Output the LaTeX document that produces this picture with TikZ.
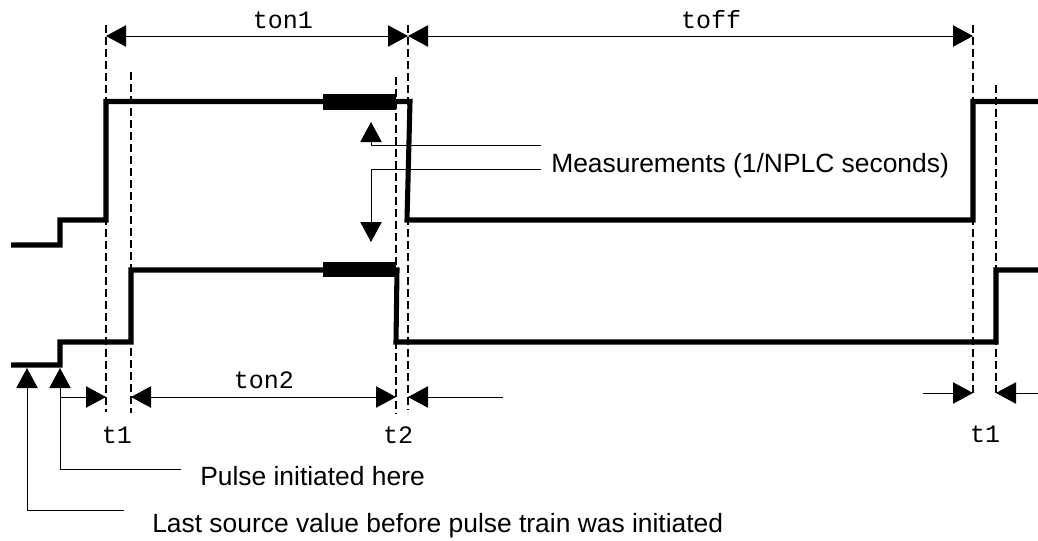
\documentclass[tikz,border=0pt]{standalone}
\usepackage{fontspec}
\setmainfont{Liberation Sans}
\newfontfamily\monofont{Liberation Mono}
\usetikzlibrary{arrows.meta}
\tikzset{
  wave/.style={line width=3.8pt},
  block/.style={line width=11.5pt},
  guide/.style={line width=1.1pt, dash pattern=on 6pt off 3pt},
  dim/.style={line width=0.75pt},
  tip/.style={-{Triangle[length=15pt,width=16pt]}},
  tips/.style={{Triangle[length=15pt,width=16pt]}-{Triangle[length=15pt,width=16pt]}},
  lbl/.style={inner sep=0pt, anchor=base west, font=\fontsize{19.8pt}{22pt}\selectfont},
  mlbl/.style={inner sep=0pt, anchor=base, font=\monofont\fontsize{18.75pt}{21pt}\selectfont},
}
\begin{document}
\begin{tikzpicture}[x=0.75pt,y=-0.75pt]
\useasboundingbox (0,0) rectangle (1038,540);

% guide coordinates
\coordinate (ga1) at (106,25);   \coordinate (ga2) at (106,412);
\coordinate (gb1) at (131,72);   \coordinate (gb2) at (131,413);
\coordinate (gc1) at (396,77);   \coordinate (gc2) at (396,414);
\coordinate (gd1) at (408,25);   \coordinate (gd2) at (408,410);
\coordinate (ge1) at (973,25);   \coordinate (ge2) at (973,397);
\coordinate (gf1) at (996,85);   \coordinate (gf2) at (996,397);

\draw[guide] (ga1) -- (ga2);
\draw[guide] (gb1) -- (gb2);
\draw[guide] (gc1) -- (gc2);
\draw[guide] (gd1) -- (gd2);
\draw[guide] (ge1) -- (ge2);
\draw[guide] (gf1) -- (gf2);

% waveforms
\draw[wave] (11,245) -- (60,245) -- (60,220) -- (106,220) -- (106,101.5)
  -- (410,101.5) -- (407,220) -- (973,220) -- (973,101.5) -- (1038,101.5);
\draw[block] (323,102) -- (396,102);
\draw[wave] (11,365) -- (60,365) -- (60,342) -- (131,342) -- (131,270)
  -- (397,270) -- (396,342) -- (996,342) -- (996,270) -- (1038,270);
\draw[block] (323,269.5) -- (396,269.5);

% dimension arrows
\coordinate (a1) at (106,36); \coordinate (a2) at (408,36); \coordinate (a3) at (973,36);
\draw[dim,tips] (a1) -- (a2);
\draw[dim,tips] (a2) -- (a3);
\node[mlbl] (ton1) at (283,28) {ton1};
\node[mlbl] (toff) at (711,28) {toff};

\coordinate (b0) at (60,397); \coordinate (b1) at (106,397);
\coordinate (b2) at (131,397); \coordinate (b3) at (396,397);
\coordinate (b4) at (408,397); \coordinate (b5) at (503,397);
\draw[dim,tip] (b0) -- (b1);
\draw[dim,tips] (b2) -- (b3);
\draw[dim,tip] (b5) -- (b4);
\node[mlbl] (ton2) at (264,388) {ton2};
\node[mlbl] (t1a) at (117,443) {t1};
\node[mlbl] (t2) at (398,443) {t2};

\coordinate (c0) at (923,393); \coordinate (c1) at (973,393);
\coordinate (c2) at (996,393); \coordinate (c3) at (1038,393);
\draw[dim,tip] (c0) -- (c1);
\draw[dim,tip] (c3) -- (c2);
\node[mlbl] (t1b) at (985,442) {t1};

% measurements
\node[lbl] (meas) at (551,172) {Measurements (1/NPLC seconds)};
\coordinate (m1) at (541,145); \coordinate (m1t) at (371,122);
\coordinate (m2) at (541,169); \coordinate (m2t) at (371,242);
\draw[dim,tip] (m1) -| (m1t);
\draw[dim,tip] (m2) -| (m2t);

% bottom annotations
\node[lbl] (pulse) at (200,485) {Pulse initiated here};
\node[lbl] (last) at (152,532) {Last source value before pulse train was initiated};
\coordinate (p1) at (181,469); \coordinate (p1t) at (60,368);
\coordinate (l1) at (124,510); \coordinate (l1t) at (27,368);
\draw[dim,tip] (p1) -| (p1t);
\draw[dim,tip] (l1) -| (l1t);
\end{tikzpicture}
\end{document}
